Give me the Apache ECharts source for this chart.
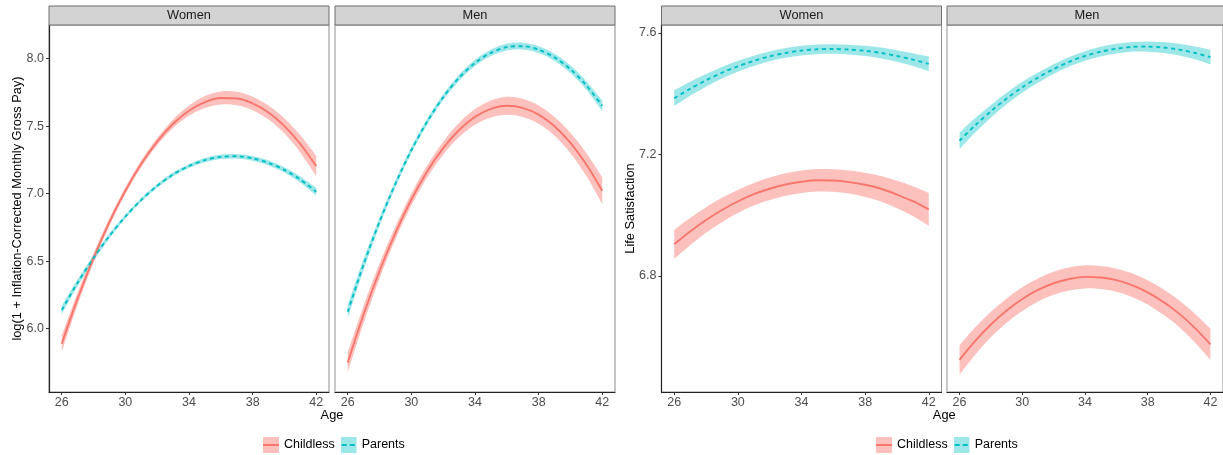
<!DOCTYPE html>
<html><head><meta charset="utf-8">
<script src="https://cdn.jsdelivr.net/npm/echarts@6/dist/echarts.min.js"></script>
<style>html,body{margin:0;padding:0;background:#fff}#c{width:1223px;height:455px}</style>
</head><body><div id="c"></div>
<script>
// ---------- data ----------
const ages = [26,27,28,29,30,31,32,33,34,35,36,37,38,39,40,41,42];
const xTicks = [26,30,34,38,42];
const payTicks = [6.0,6.5,7.0,7.5,8.0];
const lsTicks = [6.8,7.2,7.6];
const facets = ['Women','Men'];
const groups = ['Childless','Parents'];
const payTitle = 'log(1 + Inflation-Corrected Monthly Gross Pay)';
const lsTitle = 'Life Satisfaction';
const xTitle = 'Age';

// fitted values and half-width of confidence band at each age
const payWomenChildless   = [5.888,6.222,6.523,6.790,7.022,7.221,7.386,7.518,7.615,7.679,7.709,7.705,7.669,7.601,7.501,7.368,7.204];
const payWomenChildlessHW = [0.060,0.045,0.035,0.028,0.025,0.025,0.027,0.032,0.038,0.044,0.048,0.050,0.050,0.052,0.056,0.064,0.075];
const payWomenParents     = [6.137,6.340,6.523,6.687,6.830,6.954,7.058,7.142,7.205,7.249,7.273,7.277,7.262,7.228,7.176,7.104,7.014];
const payWomenParentsHW   = [0.030,0.025,0.020,0.017,0.015,0.014,0.014,0.014,0.015,0.016,0.017,0.017,0.018,0.019,0.020,0.023,0.028];
const payMenChildless     = [5.748,6.106,6.427,6.710,6.957,7.166,7.337,7.472,7.569,7.628,7.651,7.636,7.586,7.499,7.376,7.216,7.021];
const payMenChildlessHW   = [0.075,0.065,0.055,0.048,0.045,0.045,0.048,0.053,0.058,0.063,0.067,0.068,0.068,0.070,0.076,0.086,0.100];
const payMenParents       = [6.125,6.476,6.792,7.074,7.322,7.535,7.714,7.859,7.969,8.044,8.086,8.093,8.067,8.010,7.922,7.802,7.650];
const payMenParentsHW     = [0.050,0.040,0.032,0.027,0.024,0.022,0.022,0.022,0.023,0.024,0.025,0.025,0.025,0.026,0.028,0.032,0.040];
const lsWomenChildless    = [6.904,6.946,6.984,7.017,7.045,7.069,7.087,7.101,7.110,7.115,7.114,7.109,7.100,7.087,7.068,7.046,7.019];
const lsWomenChildlessHW  = [0.048,0.045,0.042,0.040,0.038,0.037,0.037,0.037,0.037,0.037,0.037,0.038,0.040,0.042,0.045,0.049,0.054];
const lsWomenParents      = [7.385,7.416,7.444,7.469,7.490,7.508,7.523,7.534,7.542,7.546,7.547,7.545,7.541,7.534,7.524,7.512,7.498];
const lsWomenParentsHW    = [0.026,0.023,0.021,0.019,0.018,0.017,0.016,0.016,0.016,0.016,0.016,0.016,0.017,0.018,0.019,0.021,0.024];
const lsMenChildless      = [6.524,6.586,6.640,6.686,6.724,6.754,6.776,6.790,6.797,6.795,6.786,6.770,6.746,6.714,6.676,6.629,6.575];
const lsMenChildlessHW    = [0.048,0.045,0.042,0.040,0.039,0.038,0.038,0.038,0.038,0.038,0.038,0.039,0.040,0.042,0.044,0.047,0.051];
const lsMenParents        = [7.245,7.296,7.342,7.384,7.421,7.453,7.481,7.505,7.524,7.538,7.548,7.554,7.555,7.552,7.545,7.534,7.520];
const lsMenParentsHW      = [0.027,0.024,0.021,0.019,0.018,0.017,0.016,0.016,0.016,0.016,0.016,0.016,0.017,0.018,0.019,0.021,0.024];

// ---------- layout / style ----------
const FONT = 'Liberation Sans, Arial, Helvetica, sans-serif';
const colors = {
  Childless: {line:'#F8766D', fill:'rgba(248,118,109,0.45)', dash:'solid'},
  Parents:   {line:'#00BFC4', fill:'rgba(0,191,196,0.38)', dash:[4,3.5]}
};
const panelW = 280, panelTop = 25, panelH = 367;
const panelLefts = [49, 335, 661.5, 947];
const panelSpec = [
  {facet:0, plot:0, fits:{Childless:[payWomenChildless,payWomenChildlessHW], Parents:[payWomenParents,payWomenParentsHW]}},
  {facet:1, plot:0, fits:{Childless:[payMenChildless,payMenChildlessHW], Parents:[payMenParents,payMenParentsHW]}},
  {facet:0, plot:1, fits:{Childless:[lsWomenChildless,lsWomenChildlessHW], Parents:[lsWomenParents,lsWomenParentsHW]}},
  {facet:1, plot:1, fits:{Childless:[lsMenChildless,lsMenChildlessHW], Parents:[lsMenParents,lsMenParentsHW]}}
];
const yRange = [{min:5.53, max:8.25, ticks:payTicks, title:payTitle}, {min:6.418, max:7.626, ticks:lsTicks, title:lsTitle}];

// Catmull-Rom spline through pixel points (rendering only)
function splineSeg(pts) {
  let d = '';
  for (let i = 0; i < pts.length - 1; i++) {
    const p0 = pts[i-1] || pts[i], p1 = pts[i], p2 = pts[i+1], p3 = pts[i+2] || pts[i+1];
    const c1x = p1[0] + (p2[0]-p0[0])/6, c1y = p1[1] + (p2[1]-p0[1])/6;
    const c2x = p2[0] - (p3[0]-p1[0])/6, c2y = p2[1] - (p3[1]-p1[1])/6;
    d += ' C' + c1x + ',' + c1y + ' ' + c2x + ',' + c2y + ' ' + p2[0] + ',' + p2[1];
  }
  return d;
}

const grids = [], xAxes = [], yAxes = [], series = [], graphics = [];
panelSpec.forEach((p, i) => {
  grids.push({left:panelLefts[i], top:panelTop, width:panelW, height:panelH,
    show:true, borderColor:'#8c8c8c', borderWidth:1, backgroundColor:'transparent'});
  xAxes.push({type:'value', gridIndex:i, min:25.2, max:42.8,
    axisLine:{show:true, onZero:false, lineStyle:{color:'#222', width:1.2}},
    axisTick:{show:true, length:3, customValues:xTicks, lineStyle:{color:'#333'}},
    axisLabel:{customValues:xTicks, color:'#4D4D4D', fontSize:12.5, fontFamily:FONT, margin:4},
    splitLine:{show:false}});
  const yr = yRange[p.plot];
  const first = p.facet === 0;
  yAxes.push({type:'value', gridIndex:i, min:yr.min, max:yr.max,
    name: first ? yr.title : '', nameLocation:'middle', nameGap:25, nameMoveOverlap:false,
    nameTextStyle:{color:'#000', fontSize:12.8, fontFamily:FONT},
    axisLine:{show:true, onZero:false, lineStyle:{color: first ? '#222' : '#c8c8c8', width: first ? 1.2 : 2}},
    axisTick:{show:first, length:3, customValues:yr.ticks, lineStyle:{color:'#333'}},
    axisLabel:{show:first, customValues:yr.ticks, color:'#4D4D4D', fontSize:12.5, fontFamily:FONT, margin:5,
      formatter: v => v.toFixed(1)},
    splitLine:{show:false}});
  // confidence ribbons
  groups.forEach(g => {
    const [fit, hw] = p.fits[g];
    series.push({type:'custom', name:g + ' CI', xAxisIndex:i, yAxisIndex:i, silent:true, clip:true, z:1,
      data:[[ages[0], fit[0]]],
      renderItem: (params, api) => {
        const up = ages.map((a,k) => api.coord([a, fit[k] + hw[k]]));
        const lo = ages.map((a,k) => api.coord([a, fit[k] - hw[k]])).reverse();
        const d = 'M' + up[0][0] + ',' + up[0][1] + splineSeg(up) +
                  ' L' + lo[0][0] + ',' + lo[0][1] + splineSeg(lo) + ' Z';
        return {type:'path', shape:{pathData:d}, style:{fill:colors[g].fill, stroke:null}};
      }});
  });
  groups.forEach(g => {
    const [fit] = p.fits[g];
    series.push({type:'line', name:g, xAxisIndex:i, yAxisIndex:i,
      data: ages.map((a,k) => [a, fit[k]]), symbol:'none', smooth:0.3,
      itemStyle:{color:colors[g].line},
      lineStyle:{color:colors[g].line, width:1.9, type:colors[g].dash}, z:3});
  });
  // strip
  graphics.push({type:'rect', shape:{x:panelLefts[i], y:6, width:panelW, height:19},
    style:{fill:'#D3D3D3', stroke:'#6e6e6e', lineWidth:1}, z:10});
  graphics.push({type:'text', x:panelLefts[i] + panelW/2, y:15.5,
    style:{text:facets[p.facet], fill:'#1a1a1a', font:'12.8px ' + FONT, textAlign:'center', textVerticalAlign:'middle'}, z:11});
});
// x titles
[[49,615],[661.5,1227]].forEach(([a,b]) => {
  graphics.push({type:'text', x:(a+b)/2, y:415.5,
    style:{text:xTitle, fill:'#000', font:'12.8px ' + FONT, textAlign:'center', textVerticalAlign:'middle'}});
});

function keyIcon(g) {
  const c = colors[g];
  const dash = g === 'Parents' ? " stroke-dasharray='5 3' stroke-dashoffset='-1'" : '';
  const svg = "<svg xmlns='http://www.w3.org/2000/svg' width='16' height='16'>" +
    "<rect x='0' y='0' width='16' height='16' fill='" + c.fill + "'/>" +
    "<line x1='0' y1='8' x2='16' y2='8' stroke='" + c.line + "' stroke-width='2'" + dash + "/></svg>";
  return 'image://data:image/svg+xml;charset=utf-8,' + encodeURIComponent(svg);
}
const legendBase = (left) => ({left:left, top:437, padding:0, orient:'horizontal', itemWidth:16, itemHeight:16, itemGap:6,
  selectedMode:false,
  textStyle:{color:'#000', fontSize:12.5, fontFamily:FONT},
  data: groups.map(g => ({name:g, icon:keyIcon(g)}))});

const chart = echarts.init(document.getElementById('c'), null, {renderer:'canvas'});
chart.setOption({
  animation:false,
  backgroundColor:'#fff',
  textStyle:{fontFamily:FONT},
  grid:grids, xAxis:xAxes, yAxis:yAxes, series:series,
  legend:[legendBase(263), legendBase(876)],
  graphic:graphics
});
</script>
</body></html>
